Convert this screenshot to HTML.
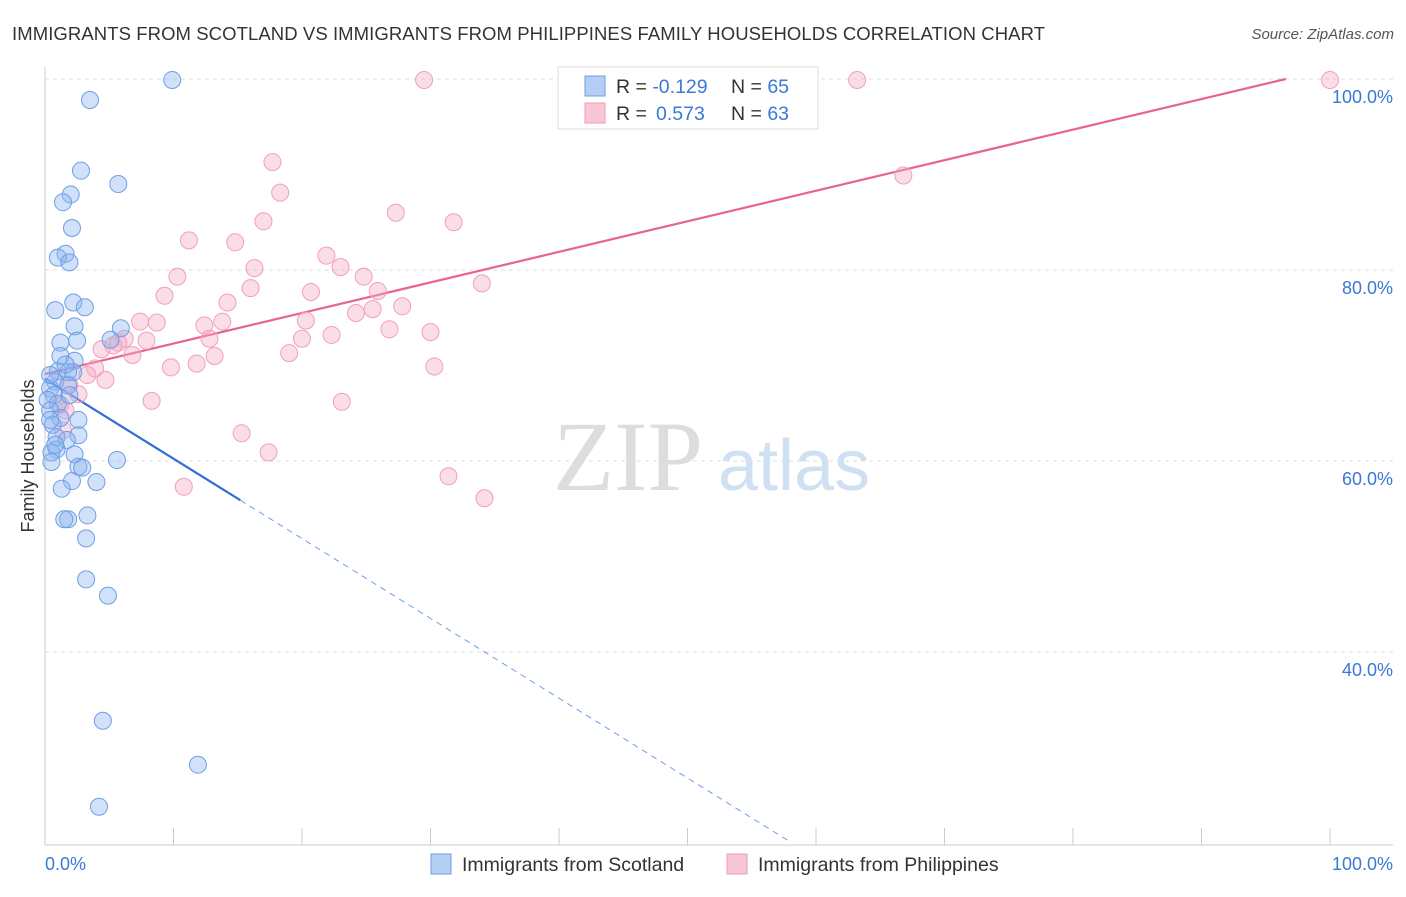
<!DOCTYPE html>
<html><head><meta charset="utf-8"><style>
body{margin:0;background:#fff;font-family:"Liberation Sans",sans-serif}
svg text{font-family:"Liberation Sans",sans-serif}
svg text.serif{font-family:"Liberation Serif",serif}
</style></head><body>
<svg id="chart" width="1406" height="892">
<text x="12" y="40" font-size="18.5" fill="#333" textLength="1033">IMMIGRANTS FROM SCOTLAND VS IMMIGRANTS FROM PHILIPPINES FAMILY HOUSEHOLDS CORRELATION CHART</text>
<text x="1394" y="39" font-size="15" fill="#555" text-anchor="end" font-style="italic">Source: ZipAtlas.com</text>
<text class="serif" x="553" y="490" font-size="100" fill="#ddd">ZIP</text>
<text x="718" y="490" font-size="72" fill="#cfe0f3">atlas</text>
<text transform="translate(34,456) rotate(-90)" font-size="18" fill="#333" text-anchor="middle">Family Households</text>
<g id="grid"></g><g id="trend"></g><g id="pts"></g>
<g>
<rect x="558" y="67" width="260" height="62" fill="#fff" stroke="#ddd"/>
<rect x="585" y="76" width="20" height="20" fill="#b5cef3" stroke="#6e9ee6"/>
<rect x="585" y="103" width="20" height="20" fill="#f9c6d6" stroke="#ee9ab5"/>
<text x="616" y="93" font-size="19.5" fill="#333">R = <tspan fill="#3b78d8">-0.129</tspan><tspan x="731">N = </tspan><tspan fill="#3b78d8">65</tspan></text>
<text x="616" y="120" font-size="19.5" fill="#333">R = <tspan fill="#3b78d8" x="656">0.573</tspan><tspan x="731">N = </tspan><tspan fill="#3b78d8">63</tspan></text>
</g>
<g>
<rect x="431" y="854" width="20" height="20" fill="#b5cef3" stroke="#6e9ee6"/>
<text x="462" y="871" font-size="19.5" fill="#333">Immigrants from Scotland</text>
<rect x="727" y="854" width="20" height="20" fill="#f9c6d6" stroke="#ee9ab5"/>
<text x="758" y="871" font-size="19.5" fill="#333">Immigrants from Philippines</text>
</g>
<text x="45" y="870" font-size="18" fill="#3b78d8">0.0%</text>
<text x="1393" y="870" font-size="18" fill="#3b78d8" text-anchor="end">100.0%</text>
</svg>
<script>
const yTicks=[100,80,60,40];
const yTickLabels=["100.0%","80.0%","60.0%","40.0%"];
const xTicks=[0,10,20,30,40,50,60,70,80,90,100];
const scotX=[9.9,3.5,2.8,5.7,2.0,1.4,2.1,1.6,1.0,1.9,2.2,3.1,0.8,2.3,5.9,2.5,1.2,5.1,1.2,2.3,1.0,1.8,2.2,0.8,1.8,0.4,0.7,1.0,0.4,1.2,2.6,0.6,2.6,0.9,1.7,0.9,0.5,2.3,5.6,0.5,2.6,2.9,4.0,2.1,1.3,1.8,1.5,3.3,3.2,3.2,4.9,4.5,11.9,4.2,0.4,1.6,0.4,0.8,1.9,0.2];
const scotY=[99.9,97.8,90.4,89.0,87.9,87.1,84.4,81.7,81.3,80.8,76.6,76.1,75.8,74.1,73.9,72.6,72.4,72.7,71.0,70.5,69.4,69.3,69.3,68.3,67.9,67.6,66.9,66.0,65.3,64.5,64.3,63.8,62.7,62.5,62.2,61.2,60.9,60.7,60.1,59.9,59.4,59.3,57.8,57.9,57.1,53.9,53.9,54.3,51.9,47.6,45.9,32.8,28.2,23.8,69.0,70.1,64.3,61.7,66.9,66.4];
const philX=[29.5,63.2,100,66.8,17.7,18.3,27.3,31.8,17.0,11.2,14.8,21.9,16.3,23.0,10.3,24.8,34.0,16.0,9.3,20.7,25.9,14.2,27.8,24.2,25.5,20.3,7.4,8.7,13.8,12.4,26.8,30.0,22.3,12.8,6.2,20.0,5.7,7.9,4.4,19.0,6.8,13.2,9.8,11.8,30.3,3.9,3.3,4.7,1.9,2.6,8.3,23.1,1.6,15.3,17.4,31.4,10.8,34.2,1.4,1.2,5.3];
const philY=[99.9,99.9,99.9,89.9,91.3,88.1,86.0,85.0,85.1,83.1,82.9,81.5,80.2,80.3,79.3,79.3,78.6,78.1,77.3,77.7,77.8,76.6,76.2,75.5,75.9,74.7,74.6,74.5,74.6,74.2,73.8,73.5,73.2,72.8,72.8,72.8,72.4,72.6,71.7,71.3,71.1,71.0,69.8,70.2,69.9,69.7,69.0,68.5,68.0,67.0,66.3,66.2,65.3,62.9,60.9,58.4,57.3,56.1,63.2,65.9,72.1];
const scotTrend=[68.6,-0.836];
const philTrend=[69.1,0.320];
const X=v=>45+v*12.85, Y=v=>79+(100-v)*9.55;
const NS="http://www.w3.org/2000/svg";
function mk(tag,attrs,parent){const e=document.createElementNS(NS,tag);for(const k in attrs)e.setAttribute(k,attrs[k]);parent.appendChild(e);return e;}
const grid=document.getElementById('grid');
yTicks.forEach((t,i)=>{
 const l=mk('line',{x1:45,x2:1393,y1:Y(t),y2:Y(t),stroke:'#ddd','stroke-dasharray':'4,4'},grid);
 
 
 const tx=mk('text',{x:1393,y:Y(t)+24,'font-size':18,fill:'#3b78d8','text-anchor':'end'},grid);
 tx.textContent=yTickLabels[i];
 
 
});
const ax=mk('line',{x1:45,x2:45,y1:67,y2:845,stroke:'#ccc'},grid);


const bx=mk('line',{x1:45,x2:1393,y1:845,y2:845,stroke:'#ccc'},grid);


xTicks.forEach(t=>{const l=mk('line',{x1:X(t),x2:X(t),y1:828,y2:845,stroke:'#ccc'},grid);
 
 });
const tr=document.getElementById('trend');
function line(a,x0,x1,col,dash,name){const l=mk('line',{x1:X(x0),y1:Y(a[0]+a[1]*x0),x2:X(x1),y2:Y(a[0]+a[1]*x1),stroke:col,'stroke-width':dash?1:2.2},tr);if(dash)l.setAttribute('stroke-dasharray','6,5');
 
 }
line(scotTrend,0,15.2,'#2f6fd6',false,'scotland-trend-line');
line(scotTrend,15.2,(20.2-scotTrend[0])/scotTrend[1],'#6e9ee6',true,'scotland-trend-extension');
line(philTrend,0,(100-philTrend[0])/philTrend[1],'#e8648f',false,'philippines-trend-line');
const pts=document.getElementById('pts');
philX.forEach((x,i)=>{const c=mk('circle',{cx:X(x),cy:Y(philY[i]),r:8.5,fill:'rgba(246,170,195,0.4)',stroke:'#f0a0ba','stroke-width':1},pts);
 
 });
scotX.forEach((x,i)=>{const c=mk('circle',{cx:X(x),cy:Y(scotY[i]),r:8.5,fill:'rgba(140,180,240,0.4)',stroke:'#6e9ee6','stroke-width':1},pts);
 
 });
</script>
</body></html>
